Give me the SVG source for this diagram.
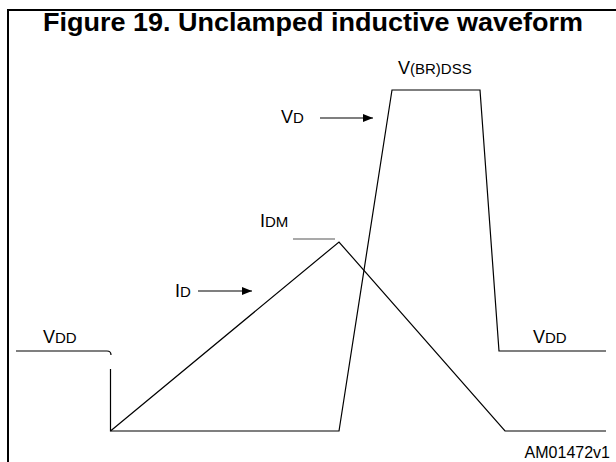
<svg xmlns="http://www.w3.org/2000/svg" width="616" height="462" viewBox="0 0 616 462">
<style>
.t{font-family:"Liberation Sans",Arial,sans-serif;fill:#000}
.m{font-size:18px}
.s{font-size:15px}
.w{fill:none;stroke:#000;stroke-width:1.2}
</style>
<defs>
<marker id="ah" viewBox="0 0 10 8" refX="10" refY="4" markerWidth="10" markerHeight="8" markerUnits="userSpaceOnUse" orient="auto">
<path d="M0,0 L10,4 L0,8 Z" fill="#000"/>
</marker>
</defs>
<rect width="616" height="462" fill="#fff"/>
<g id="frame">
<path d="M8,462 V10 H616" fill="none" stroke="#000" stroke-width="2"/>
</g>
<text class="t" x="43" y="31" font-size="26" font-weight="bold" textLength="540" lengthAdjust="spacingAndGlyphs">Figure 19. Unclamped inductive waveform</text>
<g id="waveforms">
<path class="w" d="M16,351 H107 Q111,351 111,355"/>
<path class="w" d="M110.5,369 V431 H339 L392,90 H480 L499,351 H606"/>
<path class="w" d="M110.5,431 L339,242 L505,431 H606"/>
<path d="M293,239 H335" stroke="#555" stroke-width="1.2" fill="none"/>
</g>
<g id="connectors">
<path d="M198,291 H252" stroke="#000" stroke-width="1.2" marker-end="url(#ah)"/>
<path d="M320,118 H373" stroke="#000" stroke-width="1.2" marker-end="url(#ah)"/>
</g>
<g id="labels">
<text class="t m" x="43" y="343">V<tspan class="s">DD</tspan></text>
<text class="t m" x="533" y="343">V<tspan class="s">DD</tspan></text>
<text class="t m" x="398" y="74">V<tspan class="s">(BR)DSS</tspan></text>
<text class="t m" x="281" y="123">V<tspan class="s">D</tspan></text>
<text class="t m" x="260" y="227">I<tspan class="s">DM</tspan></text>
<text class="t m" x="175" y="297">I<tspan class="s">D</tspan></text>
<text class="t" x="610" y="458" font-size="16" text-anchor="end">AM01472v1</text>
</g>
</svg>
